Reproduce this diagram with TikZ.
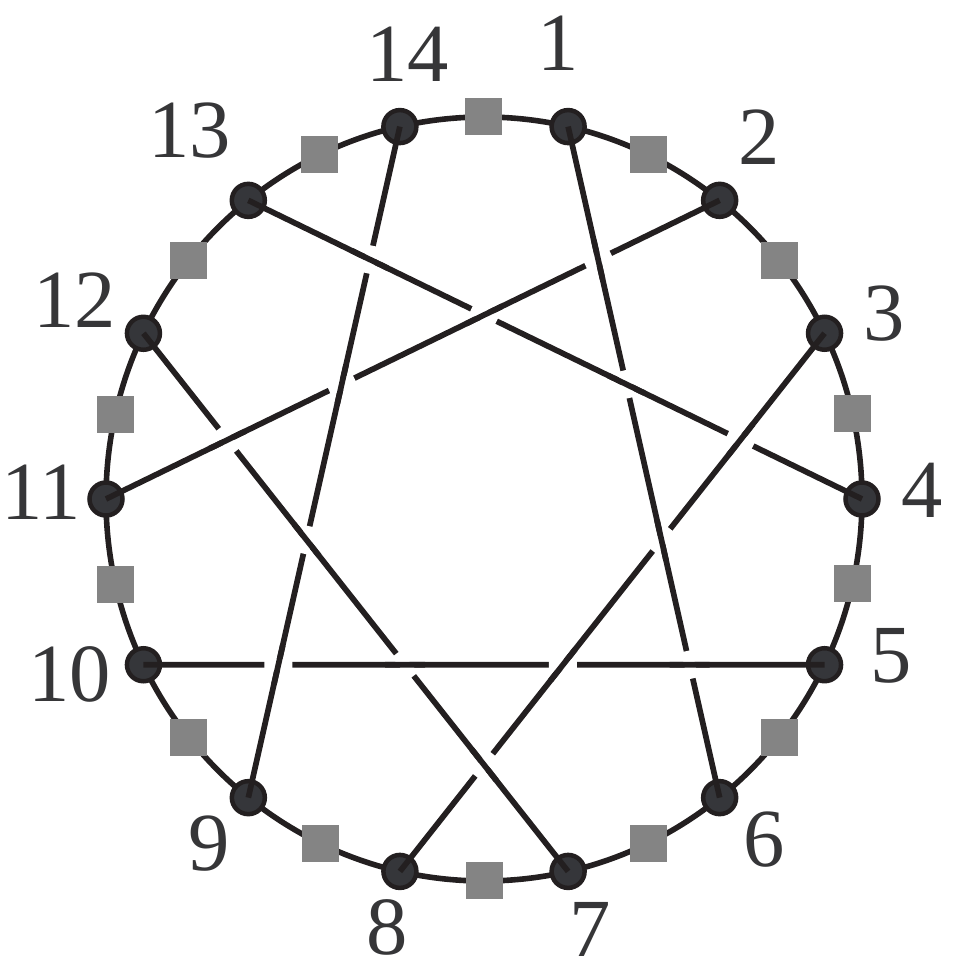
\documentclass[tikz,border=0pt]{standalone}
\usepackage{fontspec}
\setmainfont{Liberation Serif}
\usetikzlibrary{calc}
\definecolor{edgeblack}{HTML}{231F20}
\definecolor{dotfill}{HTML}{35363A}
\definecolor{boxgray}{HTML}{848484}
\definecolor{labelgray}{HTML}{363638}
\begin{document}
\begin{tikzpicture}[
    rim/.style={draw=edgeblack, line width=0.056cm},
    chord/.style={edgeblack, line width=0.057cm},
    under/.style={white, line width=0.11cm},
    vertex/.style={circle, draw=edgeblack, fill=dotfill, line width=0.045cm, minimum size=0.33cm, inner sep=0pt},
    midbox/.style={fill=boxgray, minimum size=0.37cm, inner sep=0pt},
    num/.style={text=labelgray, font=\fontsize{23.5}{24}\selectfont, inner sep=0pt}
  ]
    \useasboundingbox (-4.84,-4.71) rectangle (4.71,4.99);

    \def\da{25.714}

    \draw[rim] (0,0) ellipse [x radius=3.78cm, y radius=3.82cm];

    % squares halfway between neighbours
    \foreach \k in {1,...,14} {
      \node[midbox] (s\k) at ({90-\k*\da}:3.78cm and 3.82cm) {};
    }

    \foreach \k/\lx/\ly in {1/0.745/4.555, 2/2.755/3.615, 3/4.00/1.855, 4/4.38/0.085,
        5/4.07/-1.565, 6/2.805/-3.41, 7/1.06/-4.305, 8/-0.97/-4.285, 9/-2.745/-3.445,
        10/-4.14/-1.755, 11/-4.425/0.065, 12/-4.09/1.985, 13/-2.94/3.685, 14/-0.765/4.445} {
      \node[vertex] (v\k) at ({102.857-\k*\da}:3.78cm and 3.82cm) {};
      \node[num] (n\k) at (\lx,\ly) {\k};
    }

    \foreach \a/\b in {1/6, 2/11, 3/8, 4/13, 5/10, 7/12, 9/14}
      \draw[chord] (v\a.center) -- (v\b.center);

    % over/under at every crossing: first pair passes over the second
    \foreach \oa/\ob/\ua/\ub in {13/4/14/9, 2/11/13/4, 14/9/2/11, 2/11/12/7, 1/6/2/11,
        13/4/1/6, 3/8/13/4, 12/7/14/9, 10/5/12/7, 14/9/10/5, 12/7/3/8, 1/6/3/8,
        3/8/10/5, 10/5/1/6} {
      \coordinate (X) at (intersection of v\oa.center--v\ob.center and v\ua.center--v\ub.center);
      \draw[under] ($(X)!0.14cm!(v\ua.center)$) -- ($(X)!0.14cm!(v\ub.center)$);
      \draw[chord] ($(X)!0.2cm!(v\oa.center)$) -- ($(X)!0.2cm!(v\ob.center)$);
    }
\end{tikzpicture}
\end{document}
